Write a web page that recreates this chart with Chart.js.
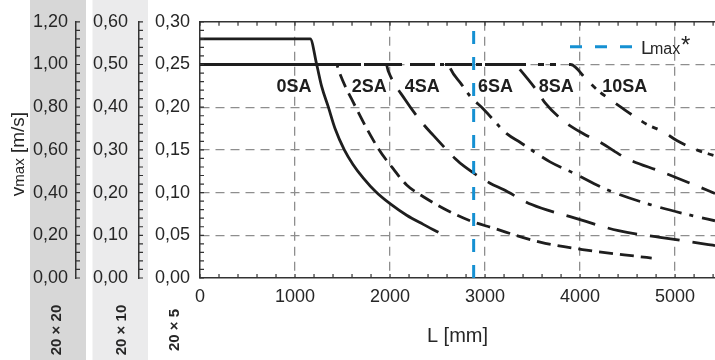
<!DOCTYPE html>
<html><head><meta charset="utf-8">
<script src="https://cdn.jsdelivr.net/npm/chart.js@4"></script>
<style>html,body{margin:0;padding:0;background:#fff}</style>
</head><body>
<canvas id="c" width="715" height="360"></canvas>
<script>
// ---- data ----
const L_0SA = [0, 1160, 1228, 1281, 1351, 1421, 1519, 1610, 1719, 1850, 2000, 2175, 2350, 2509];
const V_0SA = [0.28, 0.28, 0.25, 0.224, 0.20, 0.175, 0.150, 0.133, 0.117, 0.101, 0.087, 0.0735, 0.0628, 0.0535];
const L_2SA = [0, 1440, 1456, 1632, 1877, 2018, 2175, 2368, 2614, 2842, 3070, 3579, 4088, 4596, 4754];
const V_2SA = [0.25, 0.25, 0.244, 0.2015, 0.1515, 0.130, 0.109, 0.094, 0.0785, 0.067, 0.059, 0.042, 0.0323, 0.0254, 0.0234];
const L_4SA = [0, 1960, 1982, 2158, 2351, 2456, 2684, 2789, 3053, 3193, 3491, 3930, 4404, 4842, 5351, 5420];
const V_4SA = [0.25, 0.25, 0.242, 0.209, 0.180, 0.167, 0.140, 0.130, 0.111, 0.1035, 0.086, 0.0708, 0.0554, 0.0477, 0.0392, 0.038];
const L_6SA = [0, 2620, 2632, 2754, 2842, 2982, 3228, 3368, 3684, 3930, 4281, 4737, 5193, 5420];
const V_6SA = [0.25, 0.25, 0.246, 0.2265, 0.213, 0.198, 0.169, 0.159, 0.136, 0.123, 0.1035, 0.086, 0.0727, 0.067];
const L_8SA = [0, 3320, 3368, 3561, 3632, 3860, 4035, 4210, 4491, 4842, 5158, 5420];
const V_8SA = [0.25, 0.25, 0.244, 0.217, 0.205, 0.181, 0.169, 0.159, 0.140, 0.125, 0.111, 0.099];
const L_10SA = [0, 3900, 4070, 4193, 4316, 4456, 4561, 4702, 4877, 5018, 5228, 5420];
const V_10SA = [0.25, 0.25, 0.232, 0.219, 0.209, 0.198, 0.190, 0.180, 0.171, 0.161, 0.150, 0.143];
const L_LMAX = [2880, 2880];
const V_LMAX = [0, 0.30];

const CURVE_NAMES = ['0SA', '2SA', '4SA', '6SA', '8SA', '10SA'];
const CURVE_LABEL_L = [990, 1780, 2340, 3110, 3750, 4470];
const CURVE_LABEL_V = [0.224, 0.224, 0.224, 0.224, 0.224, 0.224];
const PANEL_NAMES = ['20 × 20', '20 × 10', '20 × 5'];
const X_TICKS = [0, 1000, 2000, 3000, 4000, 5000];
const Y5_TICKS = [0, 0.05, 0.10, 0.15, 0.20, 0.25, 0.30];
const Y10_TICKS = [0, 0.10, 0.20, 0.30, 0.40, 0.50, 0.60];
const Y20_TICKS = [0, 0.20, 0.40, 0.60, 0.80, 1.00, 1.20];
const X_MIN = 0, X_MAX = 5420, X_MINOR = 200;
const Y5_MAX = 0.30, Y10_MAX = 0.60, Y20_MAX = 1.20;

const FONT = 'Liberation Sans';
const INK = '#1e1e1e';
const TXT = '#262626';
const GRID = '#8e8e8e';

function pts(xs, ys) { return xs.map((x, i) => ({x: x, y: ys[i]})); }
function comma(v) { return Number(v).toFixed(2).replace('.', ','); }
function fixTicks(list) { return sc => { sc.ticks = list.map(v => ({value: v})); }; }

const curve = (label, xs, ys, dash, off) => ({
  label, data: pts(xs, ys), borderColor: INK, borderWidth: 2.8, borderDash: dash,
  borderDashOffset: off || 0,
  pointRadius: 0, fill: false, cubicInterpolationMode: 'monotone',
  borderCapStyle: 'butt', xAxisID: 'x', yAxisID: 'y'
});

const datasets = [
  {label: 'Lmax*', data: pts(L_LMAX, V_LMAX), borderColor: '#1590d2', borderWidth: 3,
   borderDash: [13, 13], pointRadius: 0, fill: false, xAxisID: 'x', yAxisID: 'y'},
  curve('0SA', L_0SA, V_0SA, []),
  curve('2SA', L_2SA, V_2SA, [14, 7]),
  curve('4SA', L_4SA, V_4SA, [30, 13]),
  curve('6SA', L_6SA, V_6SA, [22, 8, 4, 9], 5),
  curve('8SA', L_8SA, V_8SA, [24, 13], 11),
  curve('10SA', L_10SA, V_10SA, [19, 12, 6, 6, 6, 13], 3)
];

function minorTicks(ctx, scale, vals, horizontal, from, len) {
  ctx.beginPath();
  vals.forEach(v => {
    const p = scale.getPixelForValue(v);
    if (horizontal) { ctx.moveTo(p, from); ctx.lineTo(p, from + len); }
    else { ctx.moveTo(from, p); ctx.lineTo(from + len, p); }
  });
  ctx.stroke();
}
function range(max, step) { const out = []; const n = Math.round(max / step); for (let i = 0; i <= n; i++) out.push(i * step); return out; }

const deco = {
  id: 'deco',
  beforeDraw(chart) {
    const ctx = chart.ctx, s = chart.scales;
    ctx.save();
    ctx.fillStyle = '#d7d7d7';
    ctx.fillRect(s.y20.right - 46, 0, 56, chart.height);
    ctx.fillStyle = '#ebebec';
    ctx.fillRect(s.y10.right - 46.5, 0, 55.5, chart.height);
    ctx.restore();
  },
  afterDatasetsDraw(chart) {
    const ctx = chart.ctx, s = chart.scales, ca = chart.chartArea;
    ctx.save();
    ctx.strokeStyle = '#333';
    ctx.lineWidth = 1.2;
    minorTicks(ctx, s.x, range(5400, X_MINOR), true, ca.bottom, -4);
    minorTicks(ctx, s.x, range(5400, X_MINOR), true, ca.top, 4);
    minorTicks(ctx, s.y, range(Y5_MAX, 0.01), false, ca.left, 4);
    minorTicks(ctx, s.y10, range(Y10_MAX, 0.02), false, s.y10.right, 4);
    minorTicks(ctx, s.y20, range(Y20_MAX, 0.04), false, s.y20.right, 4);
    ctx.fillStyle = INK;
    ctx.font = 'bold 18px "' + FONT + '"';
    ctx.textAlign = 'center';
    ctx.textBaseline = 'middle';
    CURVE_NAMES.forEach((n, i) => {
      ctx.fillText(n, s.x.getPixelForValue(CURVE_LABEL_L[i]), s.y.getPixelForValue(CURVE_LABEL_V[i]));
    });
    const lx = ca.right - 145, ly = ca.top + 25;
    ctx.strokeStyle = '#1590d2'; ctx.lineWidth = 3; ctx.setLineDash([12, 13]);
    ctx.beginPath(); ctx.moveTo(lx, ly); ctx.lineTo(lx + 62, ly); ctx.stroke();
    ctx.setLineDash([]);
    ctx.fillStyle = TXT; ctx.textAlign = 'left'; ctx.textBaseline = 'alphabetic';
    ctx.font = '19px "' + FONT + '"';
    ctx.fillText('L', lx + 71, ly + 7);
    ctx.font = '16px "' + FONT + '"';
    ctx.fillText('max', lx + 80, ly + 7);
    ctx.font = '24px "' + FONT + '"';
    ctx.fillText('*', lx + 111, ly + 6);
    ctx.restore();
  },
  afterDraw(chart) {
    const ctx = chart.ctx, s = chart.scales;
    ctx.save();
    ctx.fillStyle = TXT;
    ctx.font = 'bold 15px "' + FONT + '"';
    ctx.textAlign = 'center'; ctx.textBaseline = 'middle';
    const px = [s.y20.right - 19, s.y10.right - 17.5, s.y.right - 25];
    PANEL_NAMES.forEach((n, i) => {
      ctx.save(); ctx.translate(px[i], 330); ctx.rotate(-Math.PI / 2);
      ctx.fillText(n, 0, 0); ctx.restore();
    });
    ctx.save();
    ctx.translate(24, 154); ctx.rotate(-Math.PI / 2);
    ctx.textBaseline = 'alphabetic'; ctx.textAlign = 'left';
    const parts = [['v', 19], ['max', 15], [' [m/s]', 19]];
    let w = 0;
    parts.forEach(p => { ctx.font = p[1] + 'px "' + FONT + '"'; w += ctx.measureText(p[0]).width; });
    let cx = -w / 2;
    parts.forEach(p => { ctx.font = p[1] + 'px "' + FONT + '"'; ctx.fillText(p[0], cx, 0); cx += ctx.measureText(p[0]).width; });
    ctx.restore();
    ctx.restore();
  }
};

Chart.defaults.font.family = FONT;
new Chart(document.getElementById('c'), {
  type: 'line',
  data: {datasets},
  options: {
    responsive: false, devicePixelRatio: 1, animation: false,
    layout: {padding: {top: 18, left: 0, right: 0, bottom: 0}},
    plugins: {legend: {display: false}, tooltip: {enabled: false}},
    scales: {
      x: {
        type: 'linear', position: 'bottom', min: X_MIN, max: X_MAX,
        afterBuildTicks: fixTicks(X_TICKS),
        afterFit: sc => { sc.height = 82; sc.paddingRight = 0; },
        ticks: {autoSkip: false, maxRotation: 0, padding: 8, color: TXT, font: {size: 18}, callback: v => String(v)},
        grid: {color: c => (c.tick && c.tick.value === 0) ? 'rgba(0,0,0,0)' : GRID, lineWidth: 1.3, drawTicks: false},
        border: {display: true, color: '#333', width: 1.5, dash: [9, 6]},
        title: {display: true, text: 'L [mm]', color: TXT, font: {size: 20}, padding: {top: 0, bottom: 12}}
      },
      xTop: {
        type: 'linear', position: 'top', min: X_MIN, max: X_MAX,
        afterBuildTicks: fixTicks(X_TICKS),
        afterFit: sc => { sc.height = 0; },
        ticks: {display: false}, grid: {display: false, drawTicks: false},
        border: {display: true, color: '#333', width: 1.5}
      },
      y: {
        type: 'linear', position: 'left', min: 0, max: Y5_MAX, weight: 0,
        afterBuildTicks: fixTicks(Y5_TICKS),
        afterFit: sc => { sc.width = 61; },
        ticks: {padding: 10, color: TXT, font: {size: 18}, callback: comma},
        grid: {color: c => (c.tick && (c.tick.value === 0 || Math.abs(c.tick.value - Y5_MAX) < 1e-9)) ? 'rgba(0,0,0,0)' : GRID, lineWidth: 1.3, drawTicks: false},
        border: {display: true, color: '#333', width: 1.5, dash: [9, 6]}
      },
      y10: {
        type: 'linear', position: 'left', min: 0, max: Y10_MAX, weight: 1,
        afterBuildTicks: fixTicks(Y10_TICKS),
        afterFit: sc => { sc.width = 63; },
        ticks: {padding: 11, color: TXT, font: {size: 18}, callback: comma},
        grid: {display: false, drawTicks: false},
        border: {display: true, color: '#333', width: 1.5}
      },
      y20: {
        type: 'linear', position: 'left', min: 0, max: Y20_MAX, weight: 2,
        afterBuildTicks: fixTicks(Y20_TICKS),
        afterFit: sc => { sc.width = 76; },
        ticks: {padding: 8, color: TXT, font: {size: 18}, callback: comma},
        grid: {display: false, drawTicks: false},
        border: {display: true, color: '#333', width: 1.5}
      }
    }
  },
  plugins: [deco]
});
</script>
</body></html>
